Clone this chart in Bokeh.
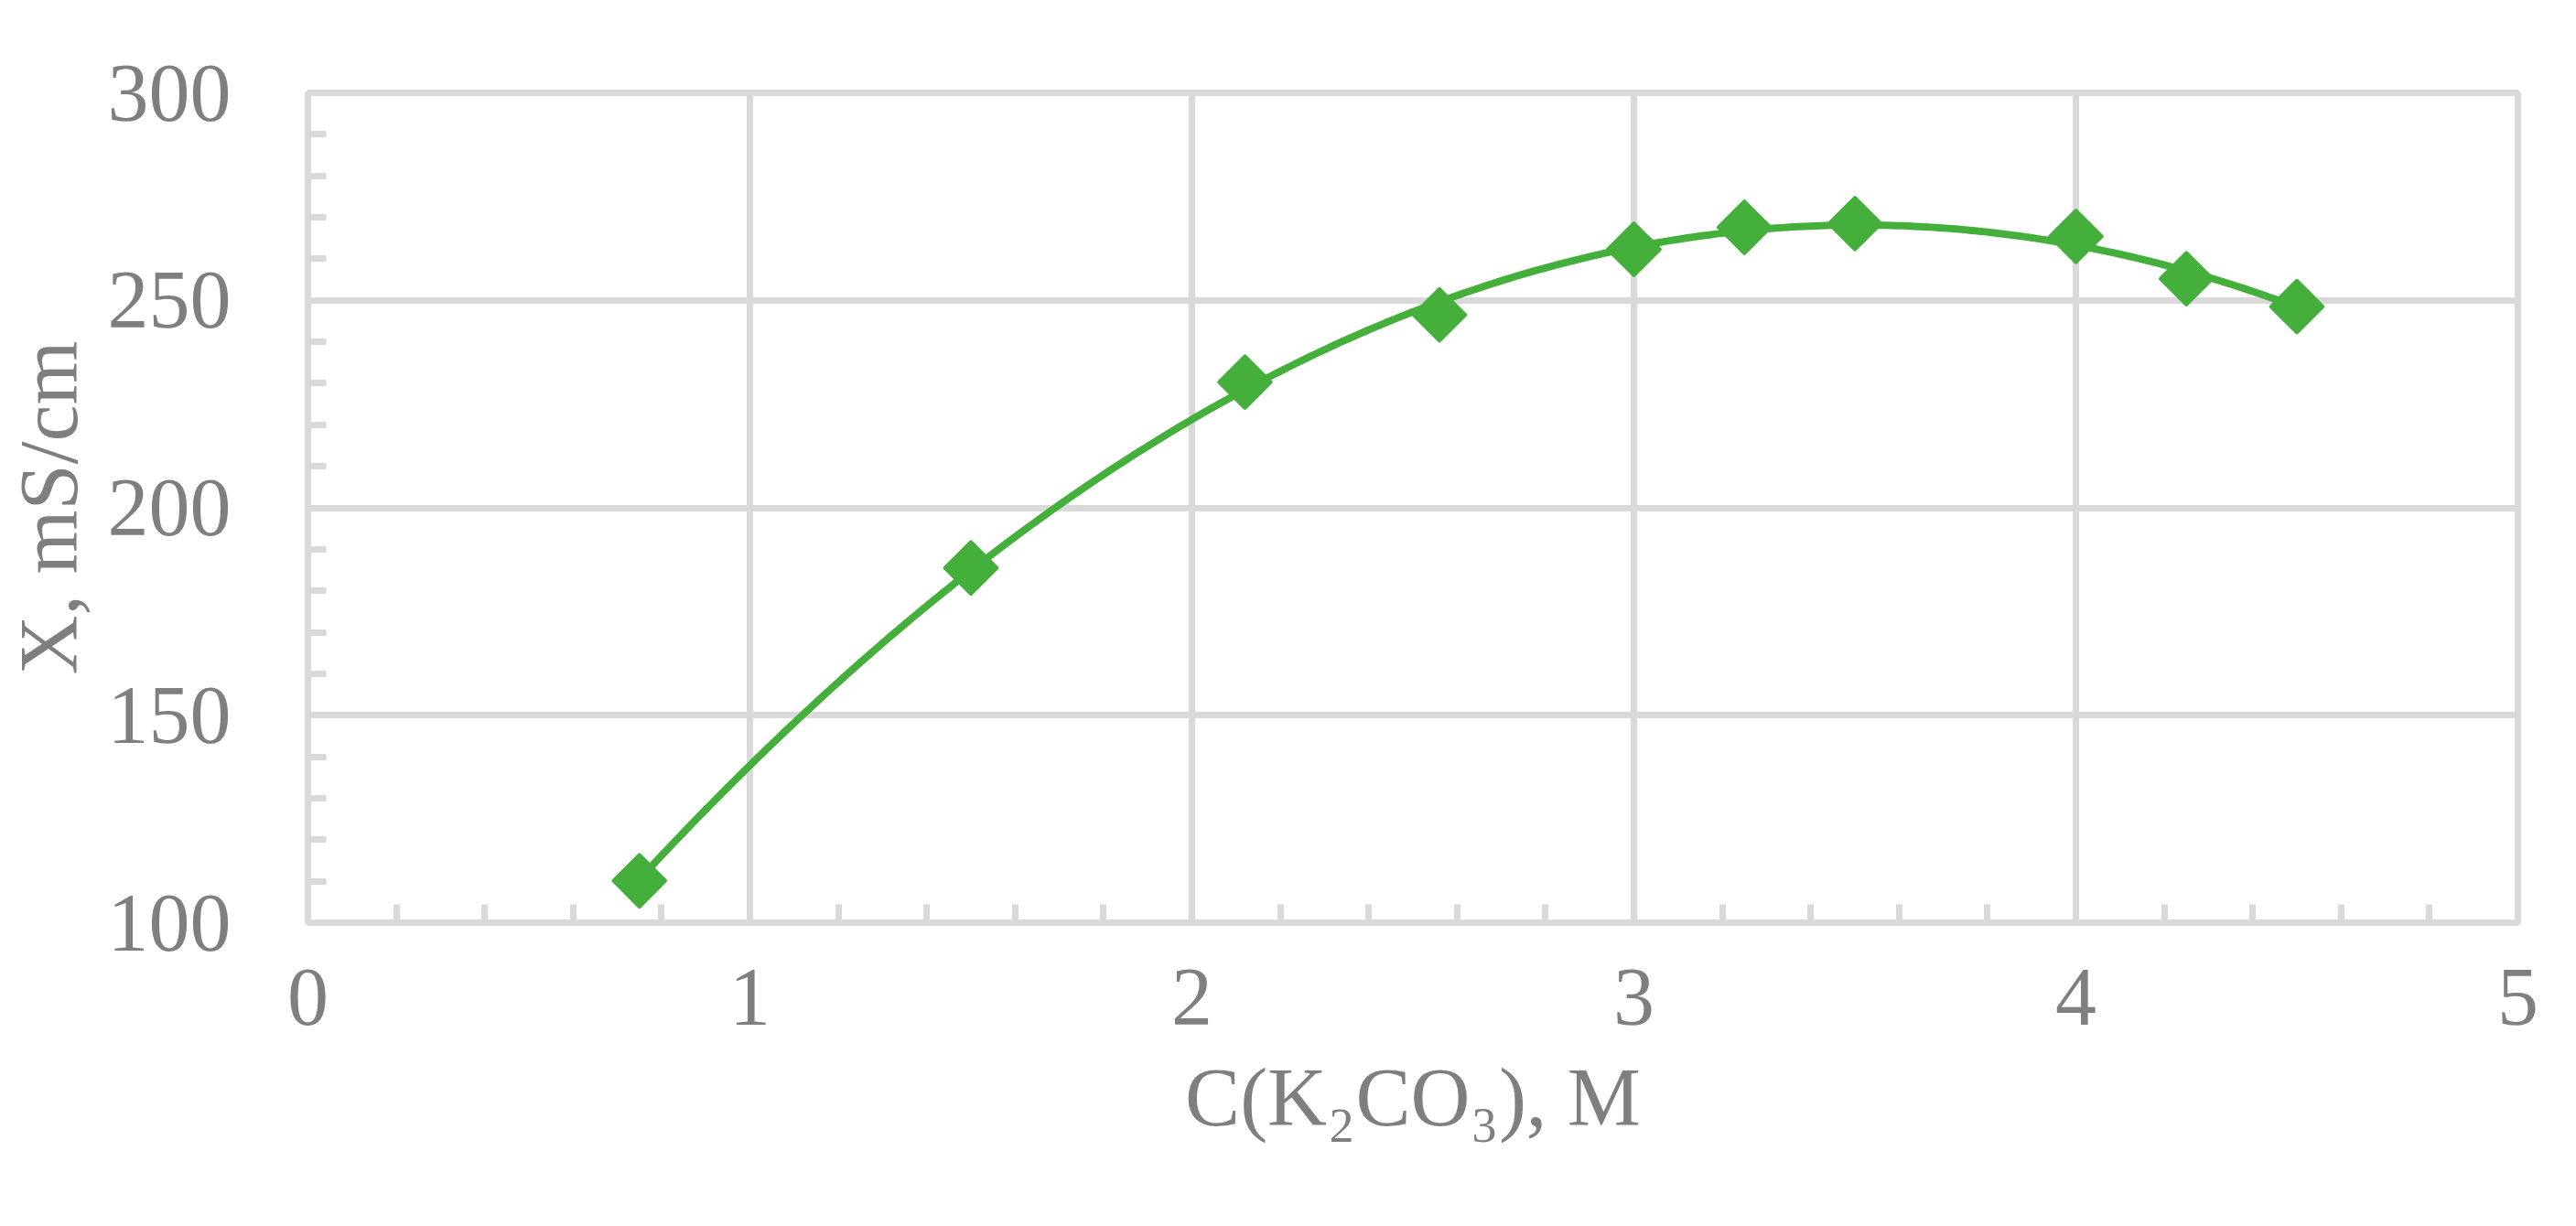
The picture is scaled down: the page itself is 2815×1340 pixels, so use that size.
import numpy as np
from bokeh.plotting import figure
from bokeh.models import Range1d, SingleIntervalTicker
from bokeh.embed import file_html
from bokeh.resources import INLINE

# Data
conc = [0.75, 1.5, 2.12, 2.56, 3.0, 3.25, 3.5, 4.0, 4.25, 4.5]
cond = [110.1, 185.5, 230.3, 246.5, 262.3, 267.6, 268.5, 265.4, 255.2, 248.5]
x_title = "C(K\u2082CO\u2083), M"
y_title = "X, mS/cm"

GREEN = "#44AF3B"
GRID = "#D9D9D9"
TEXT = "#7F7F7F"
FONT = "Liberation Serif"

p = figure(width=2799, height=1324, output_backend="svg", toolbar_location=None,
           x_range=Range1d(0, 5), y_range=Range1d(100, 300),
           min_border_left=300, min_border_right=48,
           min_border_top=101, min_border_bottom=316)

p.background_fill_color = "white"
p.border_fill_color = "white"
p.outline_line_color = GRID
p.outline_line_width = 7

p.xaxis.ticker = SingleIntervalTicker(interval=1, num_minor_ticks=5)
p.yaxis.ticker = SingleIntervalTicker(interval=50, num_minor_ticks=5)

for ax in (p.xaxis, p.yaxis):
    ax.axis_line_color = GRID
    ax.axis_line_width = 7
    ax.major_tick_line_color = None
    ax.major_tick_in = 0
    ax.major_tick_out = 0
    ax.minor_tick_line_color = GRID
    ax.minor_tick_line_width = 7
    ax.minor_tick_in = 20
    ax.minor_tick_out = 0
    ax.major_label_text_font = FONT
    ax.major_label_text_font_size = "90px"
    ax.major_label_text_color = TEXT
    ax.axis_label_text_font = FONT
    ax.axis_label_text_font_size = "90px"
    ax.axis_label_text_color = TEXT
    ax.axis_label_text_font_style = "normal"

p.xaxis.axis_label = x_title
p.yaxis.axis_label = y_title
p.xaxis.major_label_standoff = 51
p.xaxis.axis_label_standoff = 27
p.yaxis.major_label_standoff = 84
p.yaxis.axis_label_standoff = 12

for g in (p.xgrid, p.ygrid):
    g.grid_line_color = GRID
    g.grid_line_width = 7

# polynomial trendline fitted to the data
coef = np.polyfit(conc, cond, 3)
xs = np.linspace(min(conc), max(conc), 300)
ys = np.polyval(coef, xs)
p.line(xs, ys, line_color=GREEN, line_width=8)

p.scatter(conc, cond, marker="square", angle=np.pi / 4, size=40,
          fill_color=GREEN, line_color=GREEN, line_width=4, line_join="round")

open("out.html", "w").write(file_html(p, INLINE))
